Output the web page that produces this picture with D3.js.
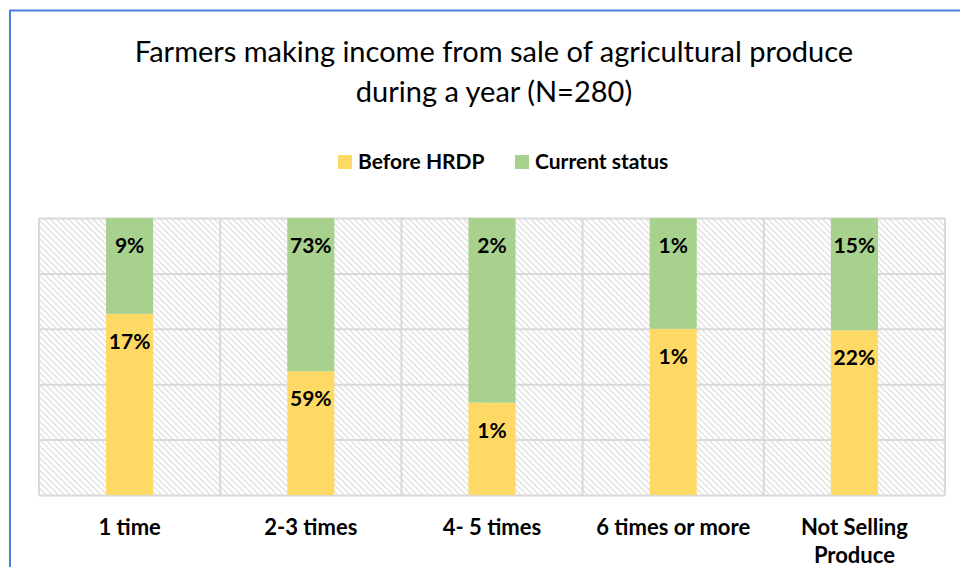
<!DOCTYPE html>
<html>
<head>
<meta charset="utf-8">
<script src="https://cdn.jsdelivr.net/npm/d3@7"></script>
<style>
  html, body { margin: 0; padding: 0; background: #fff; }
  svg { display: block; font-family: Lato, "Open Sans", sans-serif; }
</style>
</head>
<body>
<svg id="chart" width="960" height="567"></svg>
<script>
// Frequency of selling produce in a year
const categories = ["1 time", "2-3 times", "4- 5 times", "6 times or more", "Not Selling Produce"];
const seriesNames = ["Before HRDP", "Current status"];
const beforeHRDP = [17, 59, 1, 1.2, 22];
const currentStatus = [9, 73, 2, 0.8, 15];
const gridTicks = [0, 0.2, 0.4, 0.6, 0.8, 1];
const colors = ["#FFD966", "#A9D18E"];

const svg = d3.select("#chart");
const W = 960, H = 567;
const plot = { left: 39, right: 945, top: 218, bottom: 495 };

// outer frame (top and left edges)
svg.append("path")
  .attr("d", `M10,${H} L10,10.5 L${W},10.5`)
  .attr("fill", "none").attr("stroke", "#4A7FDB").attr("stroke-width", 2);

// title
const title = svg.append("text")
  .attr("text-anchor", "middle")
  .attr("font-size", 29)
  .attr("fill", "#000");
title.append("tspan").attr("x", 494).attr("y", 62).text("Farmers making income from sale of agricultural produce");
title.append("tspan").attr("x", 494).attr("y", 102).text("during a year (N=280)");

// legend
const legend = svg.append("g").attr("font-size", 21).attr("font-weight", 700);
const legendX = [338, 515];
seriesNames.forEach((name, i) => {
  const g = legend.append("g").attr("transform", `translate(${legendX[i]},155)`);
  g.append("rect").attr("width", 14).attr("height", 14).attr("fill", colors[i]);
  g.append("text").attr("x", 20).attr("y", 13.5).text(name);
});

// data rows for stacking
const rows = categories.map((c, i) => ({
  category: c,
  "Before HRDP": beforeHRDP[i],
  "Current status": currentStatus[i]
}));
const stack = d3.stack().keys(seriesNames).offset(d3.stackOffsetExpand);
const layers = stack(rows);

const x = d3.scaleBand().domain(categories).range([plot.left, plot.right]).padding(0);
const y = d3.scaleLinear().domain([0, 1]).range([plot.bottom, plot.top]);
const barW = x.bandwidth() * 0.26;

// hatched plot background
const defs = svg.append("defs");
const pat = defs.append("pattern")
  .attr("id", "hatch")
  .attr("patternUnits", "userSpaceOnUse")
  .attr("width", 4.3).attr("height", 4.3)
  .attr("patternTransform", "rotate(-45)");
pat.append("rect").attr("width", 4.3).attr("height", 4.3).attr("fill", "#fff");
pat.append("line")
  .attr("x1", 1).attr("y1", 0).attr("x2", 1).attr("y2", 4.3)
  .attr("stroke", "#d9d9d9").attr("stroke-width", 1.1);

svg.append("rect")
  .attr("x", plot.left).attr("y", plot.top)
  .attr("width", plot.right - plot.left).attr("height", plot.bottom - plot.top)
  .attr("fill", "url(#hatch)");

// horizontal gridlines
const yGrid = svg.append("g")
  .attr("transform", `translate(${plot.left},0)`)
  .call(d3.axisLeft(y).tickValues(gridTicks).tickSize(-(plot.right - plot.left)).tickFormat(""));
yGrid.select(".domain").remove();
yGrid.selectAll("line").attr("stroke", "#d9d9d9").attr("stroke-width", 2);

// vertical gridlines at category boundaries
const bounds = categories.map(c => x(c)).concat([x(categories[categories.length - 1]) + x.bandwidth()]);
svg.append("g").selectAll("line").data(bounds).join("line")
  .attr("x1", d => d).attr("x2", d => d)
  .attr("y1", plot.top).attr("y2", plot.bottom)
  .attr("stroke", "#d9d9d9").attr("stroke-width", 2);

// stacked bars
const fmt = v => d3.format(".0f")(v) + "%";
layers.forEach((layer, li) => {
  const g = svg.append("g");
  g.selectAll("rect").data(layer).join("rect")
    .attr("x", d => x(d.data.category) + (x.bandwidth() - barW) / 2)
    .attr("y", d => y(d[1]))
    .attr("width", barW)
    .attr("height", d => y(d[0]) - y(d[1]))
    .attr("fill", colors[li]);
  g.selectAll("text").data(layer).join("text")
    .attr("x", d => x(d.data.category) + x.bandwidth() / 2)
    .attr("y", d => y(d[1]) + 35)
    .attr("text-anchor", "middle")
    .attr("font-size", 21)
    .attr("font-weight", 700)
    .attr("fill", "#000")
    .text(d => fmt(d.data[layer.key]));
});

// category axis
const xAxis = svg.append("g")
  .attr("transform", `translate(0,${plot.bottom})`)
  .call(d3.axisBottom(x).tickSize(0).tickPadding(0));
xAxis.select(".domain").remove();
xAxis.selectAll("text")
  .attr("font-family", "Lato, 'Open Sans', sans-serif")
  .attr("font-size", 22)
  .attr("font-weight", 700)
  .attr("fill", "#000")
  .attr("dy", null)
  .attr("y", 40)
  .each(function(d) {
    const t = d3.select(this);
    if (d === "Not Selling Produce") {
      t.text(null);
      t.append("tspan").attr("x", 0).attr("y", 40).text("Not Selling");
      t.append("tspan").attr("x", 0).attr("y", 68).text("Produce");
    }
  });
</script>
</body>
</html>
